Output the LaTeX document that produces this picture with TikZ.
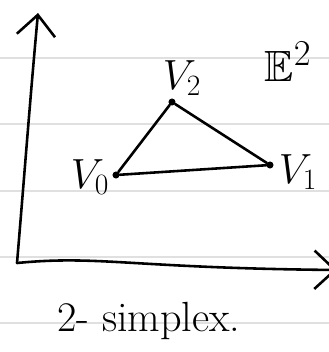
\RequirePackage{fix-cm}
\documentclass[tikz,border=0pt]{standalone}
\usepackage{amssymb}
\usetikzlibrary{arrows.meta}
\begin{document}
\begin{tikzpicture}[x=0.03cm,y=-0.03cm,
  rule/.style={draw=black!12,line width=1.6pt},
  ink/.style={draw=black,line width=2.2pt,line cap=round,line join=round},
  vtx/.style={circle,fill=black,inner sep=0pt,minimum size=6pt},
  lbl/.style={font=\fontsize{36}{38}\selectfont,inner sep=0pt},
  axtip/.style={-{Straight Barb[length=0.62cm,width=1.15cm,line width=2.2pt]}}
]
\useasboundingbox (0,0) rectangle (329,352);
\fill[white] (0,0) rectangle (329,352);
% ruled paper lines
\foreach \yy in {58,124,191,257,323} \draw[rule] (0,\yy) -- (329,\yy);
% axes
\coordinate (O) at (17,263);
\coordinate (Ytip) at (38,13);
\coordinate (Xtip) at (337,270);
\draw[ink,axtip] (O) .. controls (24,180) and (30,100) .. (Ytip);
\draw[ink,axtip] (O) .. controls (100,255) and (130,268) .. (Xtip);
% vertices
\node[vtx] (v0) at (116,175) {};
\node[vtx] (v1) at (270,165) {};
\node[vtx] (v2) at (172,102) {};
\draw[ink] (v0) -- (v2) -- (v1) -- (v0);
% labels
\node[lbl] (l0) at (90,177) {$V_0$};
\node[lbl] (l1) at (298,172) {$V_1$};
\node[lbl] (l2) at (182,78) {$V_2$};
\node[inner sep=0pt,font=\fontsize{24.88}{26}\selectfont,scale=1.5] (E) at (288,62) {$\mathbb{E}^2$};
\node[lbl,anchor=base west] (cap) at (57,331) {2- simplex.};
\end{tikzpicture}
\end{document}
